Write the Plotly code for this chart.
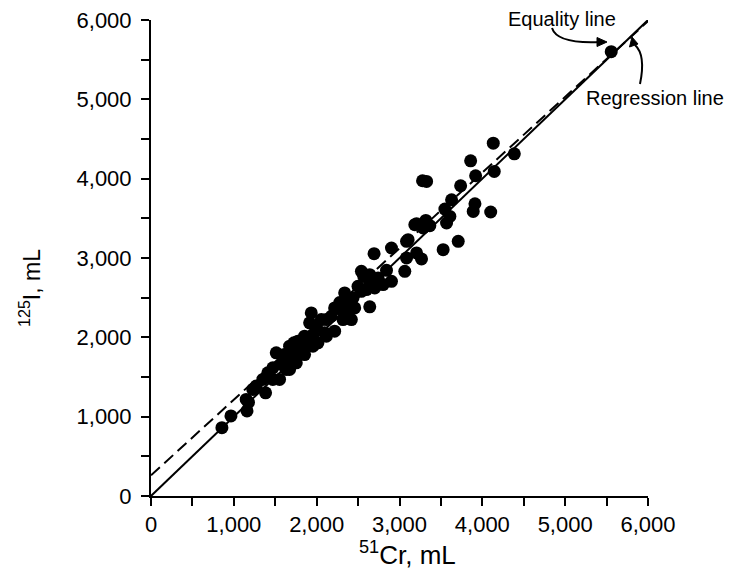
import plotly.graph_objects as go

# ---- data ----
cr51_ml = [856, 965, 1159, 1149, 1177, 1229, 1270, 1383, 1350, 1471,
           1552, 1410, 1512, 1576, 1471, 1673, 1633, 1754, 1612, 1673,
           1673, 1725, 1754, 1773, 1814, 1854, 1875, 1854, 1955, 2015,
           1915, 1935, 1996, 2056, 1955, 2096, 2117, 2117, 2217, 2177,
           2217, 2278, 2298, 2318, 2359, 2419, 2338, 2359, 2439, 2459,
           2499, 2540, 2540, 2568, 2601, 2641, 2641, 2641, 2701, 2722,
           2693, 2741, 2802, 2843, 2903, 2903, 3064, 3085, 3085, 3206,
           3266, 3206, 3318, 3285, 3366, 3278, 3327, 3527, 3709, 3548,
           3608, 3568, 3629, 3738, 3911, 3890, 4101, 3919, 3859, 4132,
           4144, 4386, 5556, 3104, 3185]
i125_ml = [861, 1009, 1072, 1217, 1179, 1343, 1385, 1301, 1469, 1469,
           1469, 1553, 1805, 1658, 1616, 1595, 1595, 1679, 1783, 1742,
           1888, 1931, 1805, 1951, 1825, 2014, 1951, 1783, 1888, 1931,
           2183, 2308, 2140, 2224, 2035, 2057, 2224, 2014, 2077, 2266,
           2371, 2438, 2350, 2224, 2308, 2224, 2560, 2413, 2497, 2371,
           2643, 2580, 2832, 2769, 2602, 2694, 2790, 2384, 2623, 2686,
           3055, 2749, 2665, 2845, 2706, 3126, 2832, 3001, 3210, 3064,
           2988, 3432, 3474, 3378, 3407, 3974, 3965, 3105, 3210, 3617,
           3524, 3441, 3734, 3911, 3684, 3587, 3580, 4037, 4225, 4448,
           4091, 4313, 5601, 3231, 3420]

equality_x = [0, 6000]
equality_y = [0, 6000]
regression_x = [0, 6000]
regression_y = [260, 5985]

tick_vals = [0, 1000, 2000, 3000, 4000, 5000, 6000]
tick_text = ["0", "1,000", "2,000", "3,000", "4,000", "5,000", "6,000"]
minor_step = 500

x_title = "<sup>51</sup>Cr, mL"
y_title = "<sup>125</sup>I, mL"
equality_label = "Equality line"
regression_label = "Regression line"

# ---- layout geometry (pixels) ----
W, H = 736, 572
L, R, T, B = 151, 88, 20, 76
PW, PH = W - L - R, H - T - B
FONT = "Liberation Sans, Arial, sans-serif"


def px(x):
    return (x - L) / PW


def py(y):
    return (H - B - y) / PH


fig = go.Figure()
fig.add_trace(go.Scatter(x=equality_x, y=equality_y, mode="lines",
                         line=dict(color="black", width=2), showlegend=False))
fig.add_trace(go.Scatter(x=regression_x, y=regression_y, mode="lines",
                         line=dict(color="black", width=2, dash="12px,6px"), showlegend=False))
fig.add_trace(go.Scatter(x=cr51_ml, y=i125_ml, mode="markers",
                         marker=dict(color="black", size=13, line=dict(width=0)),
                         showlegend=False))

axis_common = dict(
    range=[0, 6000], tickvals=tick_vals, ticktext=tick_text,
    showline=True, linewidth=2, linecolor="black",
    ticks="outside", ticklen=8, tickwidth=1.5, tickcolor="black",
    minor=dict(dtick=minor_step, tick0=0, ticks="outside", ticklen=8,
               tickwidth=1.5, tickcolor="black", showgrid=False),
    showgrid=False, zeroline=False,
    tickfont=dict(family=FONT, size=22, color="black"),
)

fig.update_xaxes(**axis_common)
fig.update_yaxes(**axis_common, ticklabelstandoff=5)

# curved arrows (paper coordinates)
shapes = [
    dict(type="path", xref="paper", yref="paper",
         path=f"M {px(552)} {py(28)} Q {px(557)} {py(44)} {px(600)} {py(42)}",
         line=dict(color="black", width=2)),
    dict(type="path", xref="paper", yref="paper",
         path=f"M {px(607)} {py(42)} L {px(597)} {py(37.5)} L {px(597)} {py(46.5)} Z",
         fillcolor="black", line=dict(color="black", width=1)),
    dict(type="path", xref="paper", yref="paper",
         path=f"M {px(640)} {py(84)} Q {px(646)} {py(55)} {px(635)} {py(45)}",
         line=dict(color="black", width=2)),
    dict(type="path", xref="paper", yref="paper",
         path=f"M {px(632)} {py(37)} L {px(629.5)} {py(47)} L {px(638)} {py(44)} Z",
         fillcolor="black", line=dict(color="black", width=1)),
]

annotations = [
    dict(text=x_title, xref="paper", yref="paper", x=px(407), y=py(553),
         xanchor="center", yanchor="middle", showarrow=False,
         font=dict(family=FONT, size=26, color="black")),
    dict(text=y_title, xref="paper", yref="paper", x=px(30), y=py(288),
         xanchor="center", yanchor="middle", textangle=-90, showarrow=False,
         font=dict(family=FONT, size=23, color="black")),
    dict(text=equality_label, xref="paper", yref="paper", x=px(562), y=py(19),
         xanchor="center", yanchor="middle", showarrow=False,
         font=dict(family=FONT, size=20, color="black")),
    dict(text=regression_label, xref="paper", yref="paper", x=px(584), y=py(98),
         xanchor="left", yanchor="middle", showarrow=False,
         font=dict(family=FONT, size=20, color="black")),
]

fig.update_layout(
    width=W, height=H,
    margin=dict(l=L, r=R, t=T, b=B, autoexpand=False),
    paper_bgcolor="white", plot_bgcolor="white",
    shapes=shapes, annotations=annotations,
    font=dict(family=FONT, color="black"),
)

fig.write_html("out.html", config={"displayModeBar": False},
               post_script="document.body.style.margin='0';")
